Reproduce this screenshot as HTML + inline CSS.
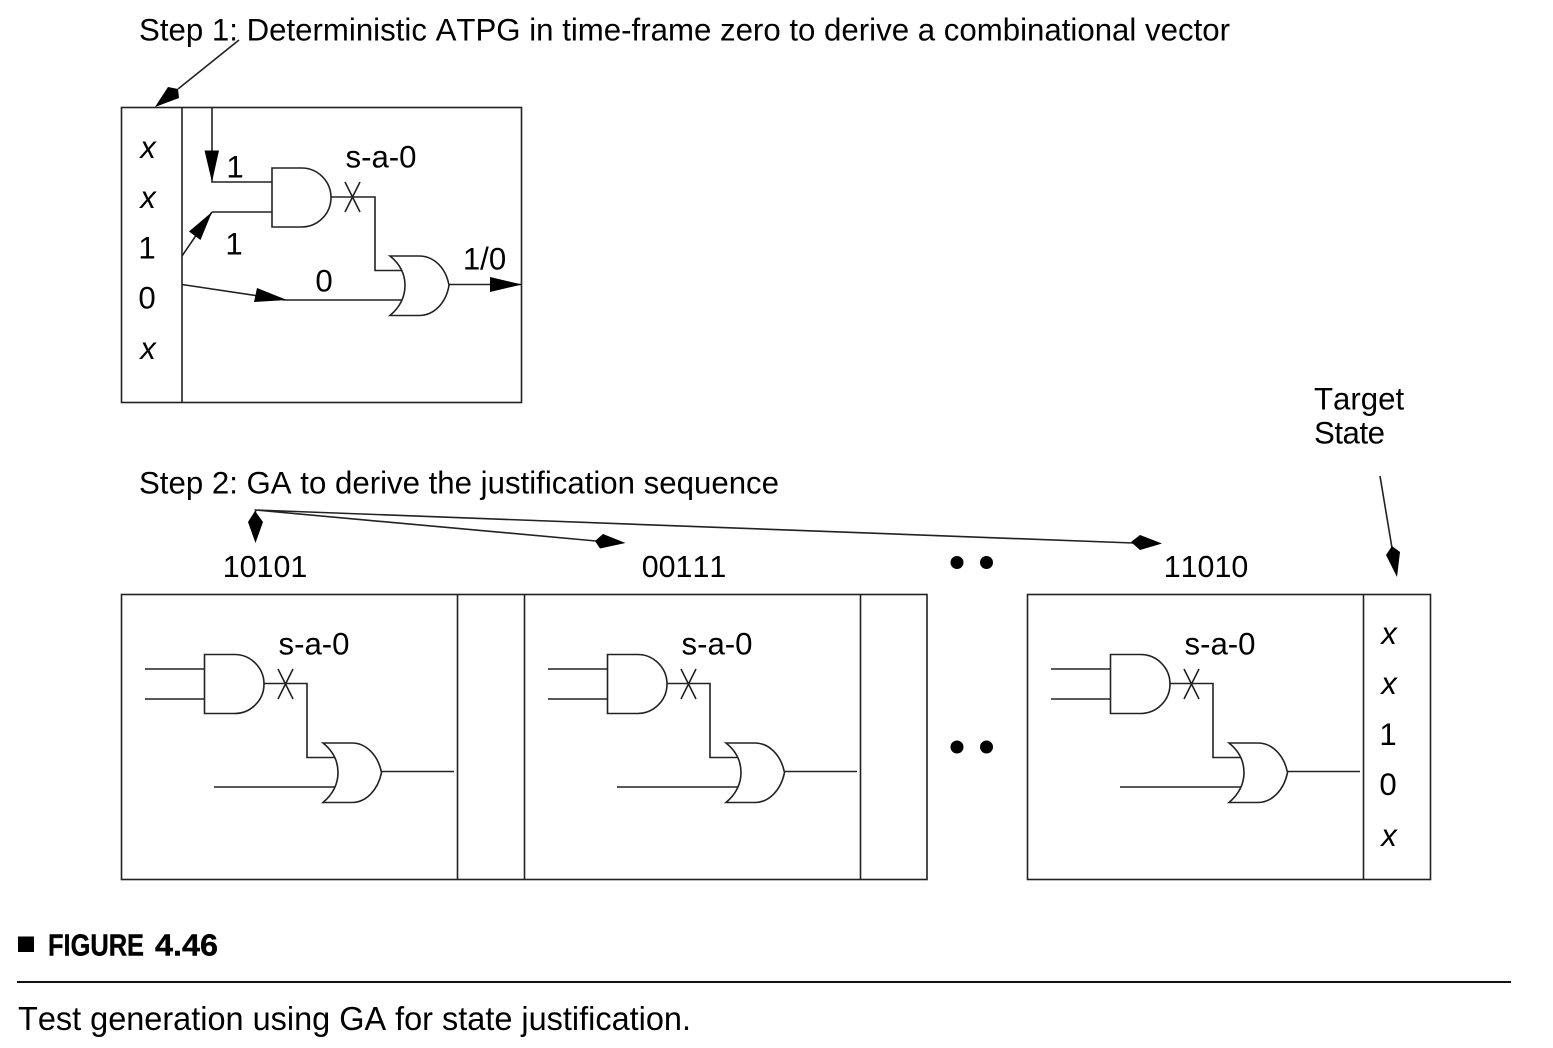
<!DOCTYPE html>
<html><head><meta charset="utf-8"><style>
html,body{margin:0;padding:0;background:#fff}
svg{display:block}
text{font-family:"Liberation Sans",sans-serif;font-size:31.2px;fill:#000;font-kerning:none}
.i{font-style:italic}
.m{text-anchor:middle}
.n{font-size:30.4px}
.l{fill:none;stroke:#222;stroke-width:1.6}
.g{fill:none;stroke:#222;stroke-width:1.6}
.k{fill:#000;stroke:none}
.cap{font-family:"Liberation Sans Narrow","Liberation Sans",sans-serif}
</style></head><body>
<svg width="1553" height="1048" viewBox="0 0 1553 1048" xmlns="http://www.w3.org/2000/svg">
<defs>
<g id="ckt">
<path class="l" d="M145 669H204M145 699H204M264 683.500H307V757.500H335M214 787H335M382 771.500H454"/>
<path class="l" d="M278 669L293 699M293 669L278 699"/>
<path class="g" d="M204.500 654.500H234.500A29.500 29.500 0 0 1 234.500 713.500H204.500Z"/>
<path class="g" d="M323 743H352C366 743 378 755 381.500 772.500C378 790 366 802.500 352 802.500H323C333 794 338 784 338 772.500C338 761 333 751 323 743Z"/>
<text class="m" x="314" y="654.500">s-a-0</text>
</g>
</defs>

<text x="139" y="40.500" textLength="1091" lengthAdjust="spacing">Step 1: Deterministic ATPG in time-frame zero to derive a combinational vector</text>
<path class="l" d="M239 40L178 89"/>
<polygon class="k" points="155,107 168,87 178,89 179,98"/>

<rect class="l" x="121.500" y="107.500" width="400" height="295"/>
<path class="l" d="M182 107V402"/>
<text class="i m" x="148" y="158">x</text>
<text class="i m" x="148" y="208">x</text>
<text class="m" x="147" y="258.500">1</text>
<text class="m" x="147" y="308.500">0</text>
<text class="i m" x="148" y="359">x</text>

<path class="l" d="M212 107V182H272M212 212H272M182 256L212 212M182 284.500L285 300H402M331 197H375V270.500H402M449 284.500H521"/>
<polygon class="k" points="212,182 204.500,150.500 219,150.500"/>
<polygon class="k" points="212,212 200.500,240 189,231.500"/>
<polygon class="k" points="287,300 257,288 254,302"/>
<polygon class="k" points="522,284.500 490,277 490,292"/>
<path class="g" d="M272 168H301.500A29.500 29.500 0 0 1 301.500 227H272Z"/>
<path class="g" d="M390 256H419C434 256 446 268 449 285.500C446 303 434 315.500 419 315.500H390C400 307 405 297 405 285.500C405 274 400 264 390 256Z"/>
<path class="l" d="M345 182L360 212M360 182L345 212"/>
<text class="m" x="381" y="167.500">s-a-0</text>
<text class="m" x="235" y="177.500">1</text>
<text class="m" x="234" y="254.500">1</text>
<text class="m" x="324" y="291.500">0</text>
<text class="m" x="484.500" y="269.500">1/0</text>

<text x="1314" y="409.500">Target</text>
<text x="1314" y="443.500" textLength="71" lengthAdjust="spacing">State</text>
<path class="l" d="M1380 476L1392 548"/>
<polygon class="k" points="1392,546 1400,552 1397,577 1386,555"/>

<text x="139" y="493.500" textLength="640" lengthAdjust="spacing">Step 2: GA to derive the justification sequence</text>
<path class="l" d="M255.500 520V510L596 541M255.500 510L1133 543"/>
<polygon class="k" points="255,511 263,522 255.500,543 248,522"/>
<polygon class="k" points="595,541 603,534 625.500,543 600,548.500"/>
<polygon class="k" points="1131,542 1140,535 1162,543.500 1140,550"/>

<text class="m n" x="265" y="577">10101</text>
<text class="m n" x="684" y="577">00111</text>
<text class="m n" x="1206" y="577">11010</text>

<circle class="k" cx="957" cy="562.500" r="6.500"/>
<circle class="k" cx="986.500" cy="562.500" r="6.500"/>
<circle class="k" cx="957" cy="747" r="6.500"/>
<circle class="k" cx="986.500" cy="747" r="6.500"/>

<rect class="l" x="121.500" y="594.500" width="805.500" height="285"/>
<path class="l" d="M457.500 594V879M524.500 594V879M860.500 594V879"/>
<rect class="l" x="1027.500" y="594.500" width="403" height="285"/>
<path class="l" d="M1363.500 594V879"/>

<use href="#ckt"/>
<use href="#ckt" x="403"/>
<use href="#ckt" x="906"/>

<text class="i m" x="1389" y="644">x</text>
<text class="i m" x="1389" y="694">x</text>
<text class="m" x="1388" y="745">1</text>
<text class="m" x="1388" y="795">0</text>
<text class="i m" x="1389" y="846">x</text>

<rect x="18" y="936.500" width="16" height="15.500" fill="#000"/>
<text class="cap" x="48" y="955.500" style="font-size:31px;font-weight:bold;stroke:#000;stroke-width:.4px" textLength="96" lengthAdjust="spacingAndGlyphs">FIGURE</text>
<text class="cap" x="155" y="955.500" style="font-size:31px;font-weight:bold;stroke:#000;stroke-width:.4px" textLength="63" lengthAdjust="spacingAndGlyphs">4.46</text>
<rect x="17" y="981" width="1494" height="2" fill="#111"/>
<text class="cap" x="18" y="1030" style="font-size:33px" textLength="673" lengthAdjust="spacingAndGlyphs">Test generation using GA for state justification.</text>
</svg>
</body></html>
